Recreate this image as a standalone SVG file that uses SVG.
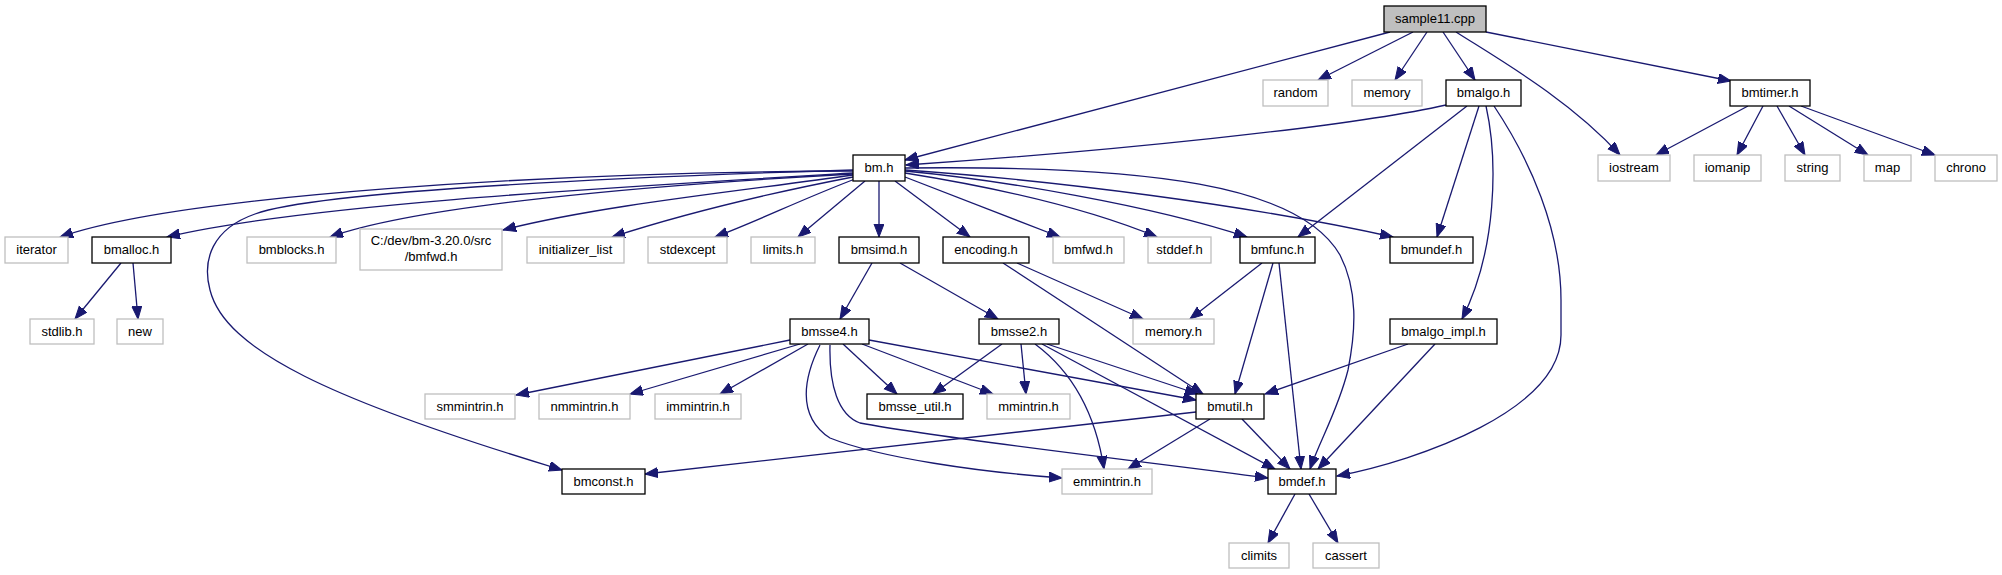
<svg xmlns="http://www.w3.org/2000/svg" width="2002" height="575" viewBox="0 0 2002 575">
<style>
rect{fill:#fff;stroke:#000;stroke-width:1.3}
.x rect{stroke:#bfbfbf}
.r rect{fill:#bfbfbf}
text{font-family:"Liberation Sans",Arial,sans-serif;font-size:13px;text-anchor:middle;fill:#000}
#edges path{fill:none;stroke:#191970;stroke-width:1.3;marker-end:url(#a)}
</style>
<defs>
<marker id="a" markerUnits="userSpaceOnUse" markerWidth="15" markerHeight="12" refX="13" refY="5" orient="auto">
<path d="M0,0 L13,5 L0,10 z" fill="#191970" stroke="#191970" stroke-width="1"/>
</marker>
</defs>
<rect x="0" y="0" width="2002" height="575" style="fill:#fff;stroke:none"/>
<g id="edges">
<path d="M1390,32 L905,160"/>
<path d="M1413,32 L1318,80"/>
<path d="M1427,32 L1395,80"/>
<path d="M1443,32 L1475,80"/>
<path d="M1456,32 C1500,60 1570,100 1620,155"/>
<path d="M1486,32 L1731,81"/>
<path d="M1446,105 C1350,127 1100,152 906,165"/>
<path d="M1467,106 L1298,237"/>
<path d="M1479,106 L1437,237"/>
<path d="M1486,106 C1498,160 1497,250 1462,319"/>
<path d="M1494,106 C1530,160 1561,230 1561,300 L1561,335 C1561,410 1420,460 1337,476"/>
<path d="M1748,106 L1656,155"/>
<path d="M1763,106 L1737,155"/>
<path d="M1777,106 L1805,155"/>
<path d="M1789,106 L1868,155"/>
<path d="M1801,106 L1935,155"/>
<path d="M853,171 C550,172 180,195 60,237"/>
<path d="M853,173 C600,188 300,205 167,237"/>
<path d="M853,170 C650,176 320,190 255,214 C212,229 202,260 210,290 C225,350 330,400 562,470"/>
<path d="M853,174 C650,185 420,205 330,237"/>
<path d="M853,175 C750,190 600,205 503,230"/>
<path d="M853,177 C760,195 680,215 612,237"/>
<path d="M855,179 C800,200 760,220 715,237"/>
<path d="M865,181 L798,237"/>
<path d="M879,181 L879,237"/>
<path d="M895,181 L970,237"/>
<path d="M905,177 L1060,237"/>
<path d="M905,173 C980,185 1080,205 1157,237"/>
<path d="M905,171 C1000,180 1150,205 1247,237"/>
<path d="M905,170 C1050,180 1250,205 1393,237"/>
<path d="M905,168 C1150,165 1300,185 1340,255 C1358,290 1356,330 1348,370 C1338,410 1320,440 1310,469"/>
<path d="M121,263 L75,319"/>
<path d="M133,263 L138,319"/>
<path d="M872,263 L840,319"/>
<path d="M900,263 L998,319"/>
<path d="M1017,263 L1143,319"/>
<path d="M1003,263 L1203,394"/>
<path d="M1262,263 L1190,319"/>
<path d="M1273,263 L1235,394"/>
<path d="M1279,263 L1301,469"/>
<path d="M1408,344 L1265,394"/>
<path d="M1435,344 L1318,469"/>
<path d="M790,340 L516,395"/>
<path d="M800,344 L630,394"/>
<path d="M808,344 L720,394"/>
<path d="M843,344 L897,394"/>
<path d="M862,344 L993,394"/>
<path d="M869,340 L1196,400"/>
<path d="M820,345 C805,375 795,415 830,438 C880,458 980,472 1062,478"/>
<path d="M830,345 C829,385 838,415 860,423 C950,440 1150,462 1268,478"/>
<path d="M1002,344 L933,394"/>
<path d="M1021,344 L1026,394"/>
<path d="M1035,344 C1070,370 1095,410 1104,469"/>
<path d="M1047,344 L1198,394"/>
<path d="M1042,344 L1275,469"/>
<path d="M1196,412 L645,474"/>
<path d="M1210,419 L1128,469"/>
<path d="M1242,419 L1290,469"/>
<path d="M1295,494 L1268,543"/>
<path d="M1309,494 L1338,543"/>
</g>
<g id="n_sample11" class="r"><rect x="1384" y="6" width="102" height="26"/><text x="1435" y="23">sample11.cpp</text></g>
<g id="n_random" class="x"><rect x="1263" y="80" width="65" height="26"/><text x="1295.5" y="97">random</text></g>
<g id="n_memory" class="x"><rect x="1352" y="80" width="70" height="26"/><text x="1387" y="97">memory</text></g>
<g id="n_bmalgo"><rect x="1446" y="80" width="75" height="26"/><text x="1483.5" y="97">bmalgo.h</text></g>
<g id="n_bmtimer"><rect x="1730" y="80" width="80" height="26"/><text x="1770" y="97">bmtimer.h</text></g>
<g id="n_bm"><rect x="853" y="155" width="52" height="26"/><text x="879" y="172">bm.h</text></g>
<g id="n_iostream" class="x"><rect x="1598" y="155" width="72" height="26"/><text x="1634" y="172">iostream</text></g>
<g id="n_iomanip" class="x"><rect x="1694" y="155" width="67" height="26"/><text x="1727.5" y="172">iomanip</text></g>
<g id="n_string" class="x"><rect x="1785" y="155" width="55" height="26"/><text x="1812.5" y="172">string</text></g>
<g id="n_map" class="x"><rect x="1864" y="155" width="47" height="26"/><text x="1887.5" y="172">map</text></g>
<g id="n_chrono" class="x"><rect x="1935" y="155" width="62" height="26"/><text x="1966" y="172">chrono</text></g>
<g id="n_iterator" class="x"><rect x="5" y="237" width="63" height="26"/><text x="36.5" y="254">iterator</text></g>
<g id="n_bmalloc"><rect x="92" y="237" width="79" height="26"/><text x="131.5" y="254">bmalloc.h</text></g>
<g id="n_bmblocks" class="x"><rect x="247" y="237" width="89" height="26"/><text x="291.5" y="254">bmblocks.h</text></g>
<g id="n_srcbmfwd" class="x"><rect x="360" y="229" width="142" height="41"/><text x="431" y="245">C:/dev/bm-3.20.0/src</text><text x="431" y="261">/bmfwd.h</text></g>
<g id="n_initializer_list" class="x"><rect x="527" y="237" width="97" height="26"/><text x="575.5" y="254">initializer_list</text></g>
<g id="n_stdexcept" class="x"><rect x="648" y="237" width="79" height="26"/><text x="687.5" y="254">stdexcept</text></g>
<g id="n_limits" class="x"><rect x="751" y="237" width="64" height="26"/><text x="783" y="254">limits.h</text></g>
<g id="n_bmsimd"><rect x="839" y="237" width="80" height="26"/><text x="879" y="254">bmsimd.h</text></g>
<g id="n_encoding"><rect x="943" y="237" width="86" height="26"/><text x="986" y="254">encoding.h</text></g>
<g id="n_bmfwd" class="x"><rect x="1053" y="237" width="71" height="26"/><text x="1088.5" y="254">bmfwd.h</text></g>
<g id="n_stddef" class="x"><rect x="1148" y="237" width="63" height="26"/><text x="1179.5" y="254">stddef.h</text></g>
<g id="n_bmfunc"><rect x="1240" y="237" width="75" height="26"/><text x="1277.5" y="254">bmfunc.h</text></g>
<g id="n_bmundef"><rect x="1390" y="237" width="83" height="26"/><text x="1431.5" y="254">bmundef.h</text></g>
<g id="n_stdlib" class="x"><rect x="30" y="319" width="64" height="25"/><text x="62" y="336">stdlib.h</text></g>
<g id="n_new" class="x"><rect x="117" y="319" width="46" height="25"/><text x="140" y="336">new</text></g>
<g id="n_bmsse4"><rect x="790" y="319" width="79" height="25"/><text x="829.5" y="336">bmsse4.h</text></g>
<g id="n_bmsse2"><rect x="979" y="319" width="80" height="25"/><text x="1019" y="336">bmsse2.h</text></g>
<g id="n_memory_h" class="x"><rect x="1133" y="319" width="81" height="25"/><text x="1173.5" y="336">memory.h</text></g>
<g id="n_bmalgo_impl"><rect x="1390" y="319" width="107" height="25"/><text x="1443.5" y="336">bmalgo_impl.h</text></g>
<g id="n_smmintrin" class="x"><rect x="425" y="394" width="90" height="25"/><text x="470" y="411">smmintrin.h</text></g>
<g id="n_nmmintrin" class="x"><rect x="539" y="394" width="91" height="25"/><text x="584.5" y="411">nmmintrin.h</text></g>
<g id="n_immintrin" class="x"><rect x="655" y="394" width="86" height="25"/><text x="698" y="411">immintrin.h</text></g>
<g id="n_bmsse_util"><rect x="867" y="394" width="96" height="25"/><text x="915" y="411">bmsse_util.h</text></g>
<g id="n_mmintrin" class="x"><rect x="987" y="394" width="83" height="25"/><text x="1028.5" y="411">mmintrin.h</text></g>
<g id="n_bmutil"><rect x="1196" y="394" width="68" height="25"/><text x="1230" y="411">bmutil.h</text></g>
<g id="n_bmconst"><rect x="562" y="469" width="83" height="25"/><text x="603.5" y="486">bmconst.h</text></g>
<g id="n_emmintrin" class="x"><rect x="1062" y="469" width="90" height="25"/><text x="1107" y="486">emmintrin.h</text></g>
<g id="n_bmdef"><rect x="1268" y="469" width="68" height="25"/><text x="1302" y="486">bmdef.h</text></g>
<g id="n_climits" class="x"><rect x="1229" y="543" width="60" height="25"/><text x="1259" y="560">climits</text></g>
<g id="n_cassert" class="x"><rect x="1313" y="543" width="66" height="25"/><text x="1346" y="560">cassert</text></g>
</svg>
